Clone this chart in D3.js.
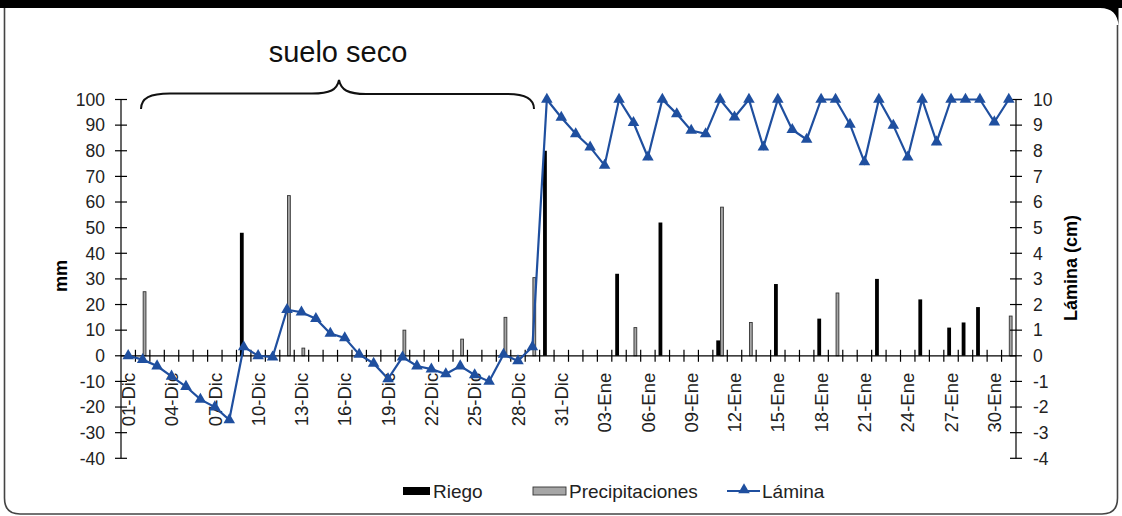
<!DOCTYPE html>
<html>
<head>
<meta charset="utf-8">
<script src="https://cdn.jsdelivr.net/npm/d3@7"></script>
<style>
  html, body { margin: 0; padding: 0; background: #fff; }
  svg { display: block; font-family: "Liberation Sans", Arial, sans-serif; }
</style>
</head>
<body>
<svg id="chart" width="1122" height="516"></svg>
<script>
// Days of the season (December and January)
const dias = [
  "01-Dic","02-Dic","03-Dic","04-Dic","05-Dic","06-Dic","07-Dic","08-Dic","09-Dic","10-Dic",
  "11-Dic","12-Dic","13-Dic","14-Dic","15-Dic","16-Dic","17-Dic","18-Dic","19-Dic","20-Dic",
  "21-Dic","22-Dic","23-Dic","24-Dic","25-Dic","26-Dic","27-Dic","28-Dic","29-Dic","30-Dic","31-Dic",
  "01-Ene","02-Ene","03-Ene","04-Ene","05-Ene","06-Ene","07-Ene","08-Ene","09-Ene","10-Ene",
  "11-Ene","12-Ene","13-Ene","14-Ene","15-Ene","16-Ene","17-Ene","18-Ene","19-Ene","20-Ene",
  "21-Ene","22-Ene","23-Ene","24-Ene","25-Ene","26-Ene","27-Ene","28-Ene","29-Ene","30-Ene","31-Ene"
];

// Irrigation (mm)
const riego = [
  0, 0, 0, 0, 0, 0, 0, 0, 48, 0,
  0, 0, 0, 0, 0, 0, 0, 0, 0, 0,
  0, 0, 0, 0, 0, 0, 0, 0, 0, 80, 0,
  0, 0, 0, 32, 0, 0, 52, 0, 0, 0,
  6, 0, 0, 0, 28, 0, 0, 14.5, 0, 0,
  0, 30, 0, 0, 22, 0, 11, 13, 19, 0, 0
];

// Rainfall (mm)
const precipitaciones = [
  0, 25, 0, 0, 0, 0, 0, 0, 0, 0,
  0, 62.5, 3, 0, 0, 0, 0, 0, 0, 10,
  0, 0, 0, 6.5, 0, 0, 15, 0, 30.5, 0, 0,
  0, 0, 0, 0, 11, 0, 0, 0, 0, 0,
  58, 0, 13, 0, 0, 0, 0, 0, 24.5, 0,
  0, 0, 0, 0, 0, 0, 0, 0, 0, 0, 15.5
];

// Water depth (cm)
const lamina = [
  0, -0.15, -0.4, -0.8, -1.2, -1.7, -2.0, -2.5, 0.35, 0.0,
  -0.05, 1.8, 1.7, 1.45, 0.87, 0.7, 0.05, -0.3, -0.9, -0.05,
  -0.4, -0.52, -0.71, -0.4, -0.75, -1.0, 0.05, -0.2, 0.35, 10, 9.3,
  8.66, 8.14, 7.43, 10, 9.1, 7.75, 10, 9.44, 8.79, 8.66,
  10, 9.31, 10, 8.14, 10, 8.82, 8.44, 10, 10, 9.03,
  7.56, 10, 8.99, 7.75, 10, 8.34, 10, 10, 10, 9.12, 10
];

const mmTicks = d3.range(-40, 101, 10);
const cmTicks = d3.range(-4, 11, 1);
const etiquetas = dias.filter((d, i) => i % 3 === 0);

const svg = d3.select("#chart");
const W = 1122, H = 516;

// Frame: black top band and rounded outline
svg.append("rect").attr("width", W).attr("height", H).attr("fill", "#fff");
svg.append("path")
  .attr("d", "M4.5,8 L4.5,498 Q4.5,514 20,514 L1102,514 Q1117.5,514 1117.5,498 L1117.5,25")
  .attr("fill", "none").attr("stroke", "#444").attr("stroke-width", 1.6);
svg.append("path")
  .attr("d", "M0,0 L1122,0 L1122,8 L1118.5,8 L1118.5,26 Q1117.5,8 1100,8 L0,8 Z")
  .attr("fill", "#000");

const plotL = 121, plotR = 1016, plotT = 99.5, plotB = 458.3;

const x = d3.scaleBand().domain(dias).range([plotL, plotR]).padding(0);
const y = d3.scaleLinear().domain([-40, 100]).range([plotB, plotT]);
const y2 = d3.scaleLinear().domain([-4, 10]).range([plotB, plotT]);

const bw = 3.8;
const blue = "#1f4f9f";

// Bars
svg.append("g").selectAll("rect")
  .data(dias.map((d, i) => ({d, v: riego[i]})).filter(o => o.v > 0))
  .join("rect")
  .attr("x", o => x(o.d) + x.bandwidth() / 2 - bw)
  .attr("width", bw)
  .attr("y", o => y(o.v))
  .attr("height", o => y(0) - y(o.v))
  .attr("fill", "#000");

svg.append("g").selectAll("rect")
  .data(dias.map((d, i) => ({d, v: precipitaciones[i]})).filter(o => o.v > 0))
  .join("rect")
  .attr("x", o => x(o.d) + x.bandwidth() / 2 + 0.5)
  .attr("width", bw - 1)
  .attr("y", o => y(o.v))
  .attr("height", o => y(0) - y(o.v))
  .attr("fill", "#a6a6a6")
  .attr("stroke", "#333")
  .attr("stroke-width", 0.9);

// Left axis
const gL = svg.append("g").attr("transform", `translate(${plotL},0)`);
gL.append("line").attr("y1", plotT - 0.5).attr("y2", plotB).attr("stroke", "#000").attr("stroke-width", 1.2);
gL.selectAll("line.t").data(mmTicks).join("line").attr("class", "t")
  .attr("x1", -6).attr("x2", 6).attr("y1", d => y(d)).attr("y2", d => y(d))
  .attr("stroke", "#000").attr("stroke-width", 1.2);
gL.selectAll("text").data(mmTicks).join("text")
  .attr("x", -16).attr("y", d => y(d)).attr("dy", "0.36em")
  .attr("text-anchor", "end").attr("font-size", 17.5).attr("fill", "#222")
  .text(d => d);

// Right axis
const gR = svg.append("g").attr("transform", `translate(${plotR},0)`);
gR.append("line").attr("y1", plotT - 0.5).attr("y2", plotB).attr("stroke", "#000").attr("stroke-width", 1.2);
gR.selectAll("line.t").data(cmTicks).join("line").attr("class", "t")
  .attr("x1", -6).attr("x2", 6).attr("y1", d => y2(d)).attr("y2", d => y2(d))
  .attr("stroke", "#000").attr("stroke-width", 1.2);
gR.selectAll("text").data(cmTicks).join("text")
  .attr("x", 17).attr("y", d => y2(d)).attr("dy", "0.36em")
  .attr("text-anchor", "start").attr("font-size", 17.5).attr("fill", "#222")
  .text(d => d);

// Category axis at zero
const y0 = y(0);
const gX = svg.append("g");
gX.append("line").attr("x1", plotL).attr("x2", plotR).attr("y1", y0).attr("y2", y0)
  .attr("stroke", "#000").attr("stroke-width", 1.2);
gX.selectAll("line.t").data(dias.slice(1)).join("line").attr("class", "t")
  .attr("x1", d => x(d)).attr("x2", d => x(d))
  .attr("y1", y0 - 6).attr("y2", y0 + 6)
  .attr("stroke", "#000").attr("stroke-width", 1.2);
gX.selectAll("text").data(etiquetas).join("text")
  .attr("transform", d => `translate(${x(d) + x.bandwidth() / 2},${y0 + 17}) rotate(-90)`)
  .attr("dy", "0.36em").attr("text-anchor", "end")
  .attr("font-size", 18.5).attr("fill", "#222")
  .text(d => d);

// Water depth line with triangle markers
const pts = dias.map((d, i) => [x(d) + x.bandwidth() / 2, y2(lamina[i])]);
svg.append("path").datum(pts)
  .attr("d", d3.line())
  .attr("fill", "none").attr("stroke", blue).attr("stroke-width", 2.2);
const tri = d3.symbol().type(d3.symbolTriangle).size(58);
svg.append("g").selectAll("path").data(pts).join("path")
  .attr("transform", p => `translate(${p[0]},${p[1]})`)
  .attr("d", tri).attr("fill", blue);

// Axis titles
svg.append("text")
  .attr("transform", `translate(67,276) rotate(-90)`)
  .attr("text-anchor", "middle").attr("font-size", 18).attr("font-weight", "bold")
  .text("mm");
svg.append("text")
  .attr("transform", `translate(1077,268) rotate(-90)`)
  .attr("text-anchor", "middle").attr("font-size", 18).attr("font-weight", "bold")
  .text("Lámina (cm)");

// Brace over the dry-soil period
svg.append("path")
  .attr("d", "M141,109 C141,98 150,93.5 170,93.5 L312,93.5 C330,93.5 337,90 339,80 C341,90 348,94 366,94 L508,94 C526,94 534,99 534,109")
  .attr("fill", "none").attr("stroke", "#111").attr("stroke-width", 2);
svg.append("text")
  .attr("x", 338).attr("y", 62).attr("text-anchor", "middle")
  .attr("font-size", 29).attr("fill", "#111")
  .text("suelo seco");

// Legend
const lg = svg.append("g").attr("font-size", 19).attr("fill", "#222");
lg.append("rect").attr("x", 403).attr("y", 487).attr("width", 27).attr("height", 8).attr("fill", "#000");
lg.append("text").attr("x", 433).attr("y", 491).attr("dy", "0.36em").text("Riego");
lg.append("rect").attr("x", 533).attr("y", 487).attr("width", 33).attr("height", 8)
  .attr("fill", "#a6a6a6").attr("stroke", "#333").attr("stroke-width", 0.9);
lg.append("text").attr("x", 569).attr("y", 491).attr("dy", "0.36em").text("Precipitaciones");
lg.append("line").attr("x1", 727).attr("x2", 760).attr("y1", 491).attr("y2", 491)
  .attr("stroke", blue).attr("stroke-width", 2.2);
lg.append("path").attr("transform", "translate(744,490)").attr("d", tri).attr("fill", blue);
lg.append("text").attr("x", 762).attr("y", 491).attr("dy", "0.36em").text("Lámina");
</script>
</body>
</html>
